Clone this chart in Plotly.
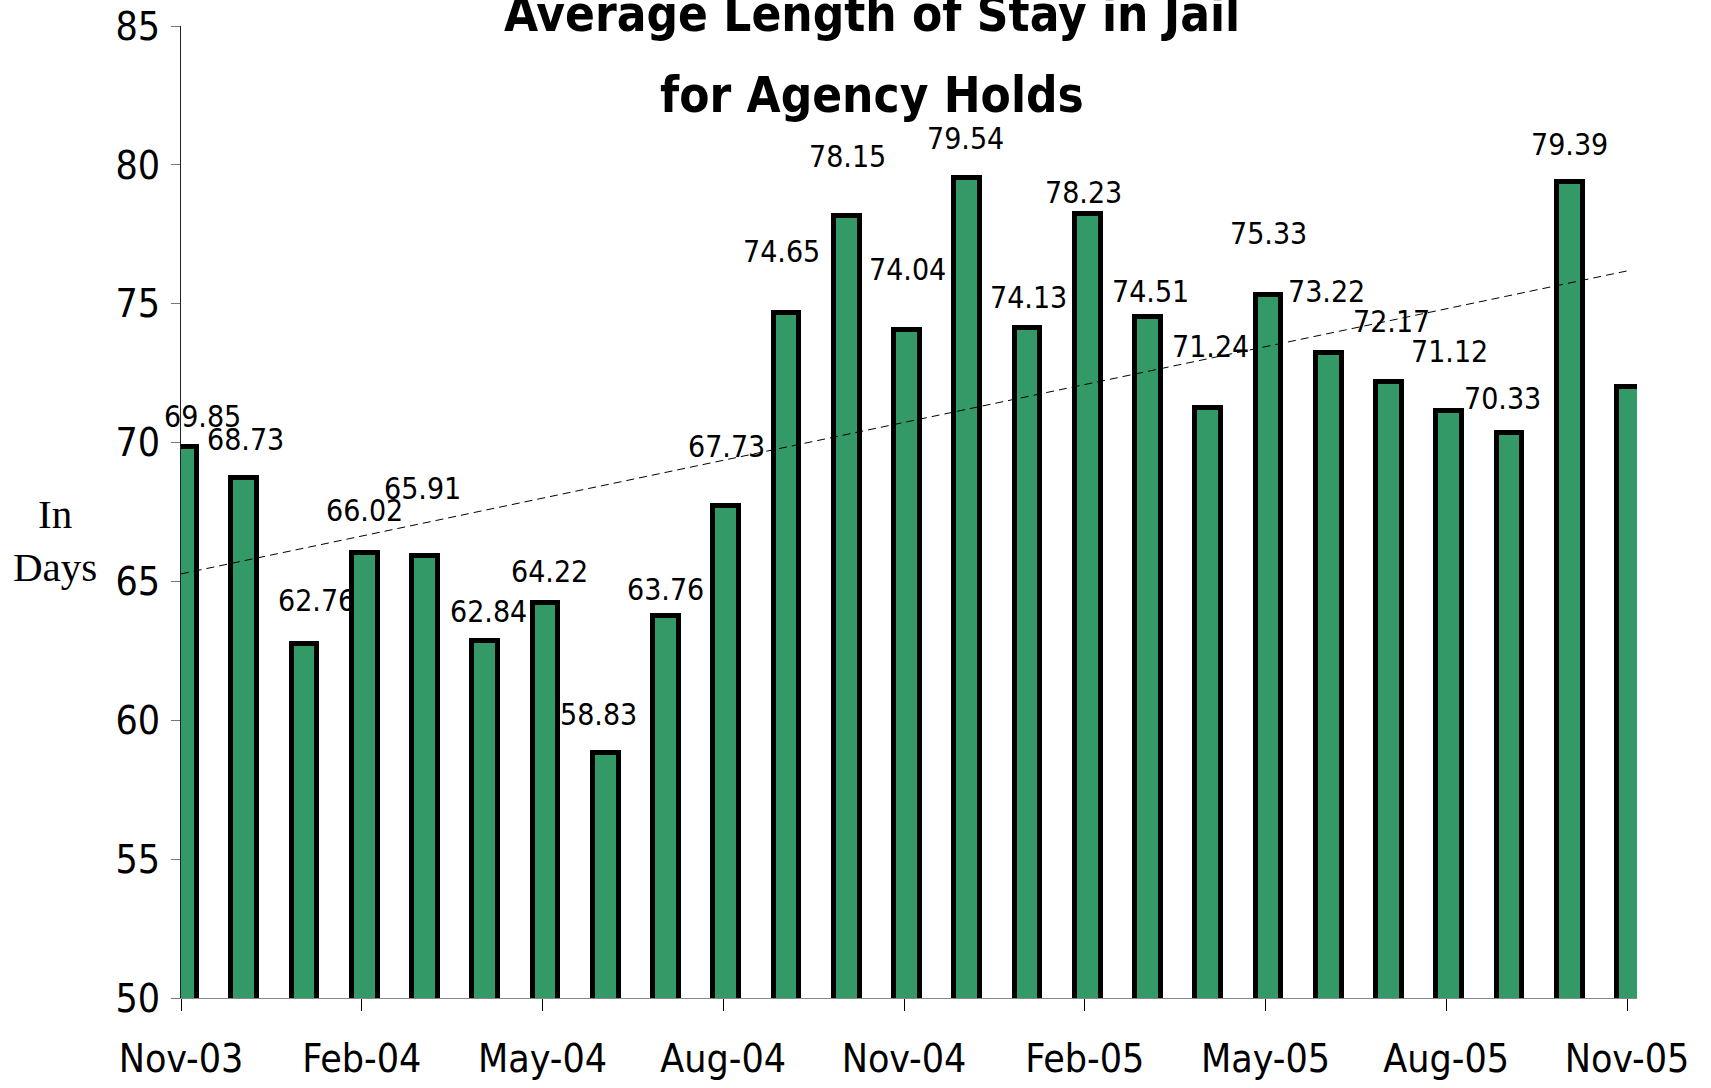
import numpy as np
import plotly.graph_objects as go

# ---- data ----
months = ["Nov-03", "Dec-03", "Jan-04", "Feb-04", "Mar-04", "Apr-04", "May-04", "Jun-04",
          "Jul-04", "Aug-04", "Sep-04", "Oct-04", "Nov-04", "Dec-04", "Jan-05", "Feb-05",
          "Mar-05", "Apr-05", "May-05", "Jun-05", "Jul-05", "Aug-05", "Sep-05", "Oct-05",
          "Nov-05"]
avg_stay = [69.85, 68.73, 62.76, 66.02, 65.91, 62.84, 64.22, 58.83, 63.76, 67.73,
            74.65, 78.15, 74.04, 79.54, 74.13, 78.23, 74.51, 71.24, 75.33, 73.22,
            72.17, 71.12, 70.33, 79.39, 72.00]
labelled = 24  # the last bar carries no data label in the original
y_ticks = [50, 55, 60, 65, 70, 75, 80, 85]
x_tick_every = 3

# ---- style / label placement (pixels) ----
label_dx = [18, 1, 12, 0, -3, 3, 4, -7, -1, 0, -5, 1, 0, -2, 1, -4, 2, 2, 0, -2, 2, 0, -7, 0]
label_lift = [1.09, 1.37, 1.55, 1.53, 2.43, 1.07, 1.13, 1.37, 0.94, 2.13, 2.23, 2.15, 2.19,
              1.41, 1.10, 0.77, 0.93, 2.22, 2.20, 2.22, 2.19, 2.16, 1.26, 1.35]
PX_PER_UNIT = 972 / 35.0
NARROW = "Liberation Sans Narrow, Arial Narrow, DejaVu Sans Condensed, sans-serif"
GREEN = "#339966"

x = np.arange(len(avg_stay))
tick_off = -0.05

fig = go.Figure()
fig.add_trace(go.Bar(
    x=x, y=avg_stay, width=0.43,
    marker=dict(color=GREEN, line=dict(color="black", width=5)),
    showlegend=False, hoverinfo="x+y",
))

# linear trend line
coef = np.polyfit(x, avg_stay, 1)
tx = np.array([x[0] + tick_off, x[-1] + tick_off])
fig.add_trace(go.Scatter(
    x=tx, y=np.polyval(coef, tx), mode="lines",
    line=dict(color="black", width=1, dash="8px,5px"),
    showlegend=False, hoverinfo="skip",
))

annotations = []
for i in range(labelled):
    annotations.append(dict(
        x=x[i], y=avg_stay[i], xref="x", yref="y", text=f"{avg_stay[i]:.2f}",
        showarrow=False, xanchor="center", yanchor="middle",
        xshift=label_dx[i], yshift=label_lift[i] * PX_PER_UNIT,
        font=dict(family=NARROW, size=30, color="black"),
    ))

# title lines
annotations.append(dict(x=0.4746, y=1.0123, xref="paper", yref="paper",
                        text="<b>Average Length of Stay in Jail</b>", showarrow=False,
                        xanchor="center", yanchor="middle",
                        font=dict(family=NARROW, size=49, color="black")))
annotations.append(dict(x=0.4746, y=0.929, xref="paper", yref="paper",
                        text="<b>for Agency Holds</b>", showarrow=False,
                        xanchor="center", yanchor="middle",
                        font=dict(family=NARROW, size=49, color="black")))
# y-axis caption
annotations.append(dict(x=-0.0865, y=0.471, xref="paper", yref="paper",
                        text="In<br>Days", showarrow=False, align="center",
                        xanchor="center", yanchor="middle",
                        font=dict(family="Liberation Serif, Times New Roman, serif",
                                  size=41, color="black")))

tick_idx = list(range(0, len(months), x_tick_every))
fig.update_layout(
    width=1711, height=1088,
    margin=dict(l=181, r=74, t=26, b=90, autoexpand=False),
    plot_bgcolor="white", paper_bgcolor="white",
    annotations=annotations,
    bargap=0,
    xaxis=dict(
        range=[x[0] + tick_off, x[0] + tick_off + 24.166],
        tickvals=[i + tick_off for i in tick_idx],
        ticktext=[months[i] for i in tick_idx],
        ticks="outside", ticklen=12, tickcolor="black", tickwidth=1,
        showline=True, linecolor="#888888", linewidth=1,
        showgrid=False, zeroline=False, automargin=False,
        tickfont=dict(family=NARROW, size=39, color="black"),
        ticklabelstandoff=14,
    ),
    yaxis=dict(
        range=[50, 85], tickvals=y_ticks,
        ticks="outside", ticklen=9, tickcolor="#777777", tickwidth=1,
        showline=True, linecolor="#222222", linewidth=1,
        showgrid=False, zeroline=False, automargin=False,
        tickfont=dict(family=NARROW, size=39, color="black"),
        ticklabelstandoff=3,
    ),
)

fig.write_html("out.html", config={"displayModeBar": False},
               post_script="document.body.style.margin='0';document.body.style.overflow='hidden';")
